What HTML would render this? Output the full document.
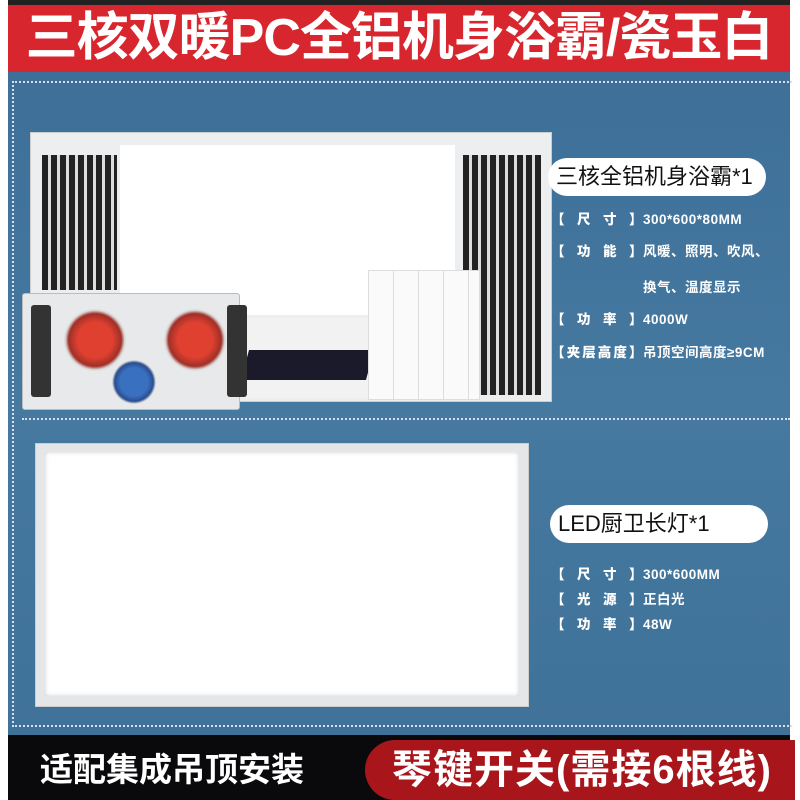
<!DOCTYPE html>
<html><head><meta charset="utf-8"><style>
*{margin:0;padding:0;box-sizing:border-box}
body{width:800px;height:800px;background:#fff;position:relative;overflow:hidden;font-family:"Liberation Sans","Noto Sans CJK SC",sans-serif}
.a{position:absolute}
.spec{position:absolute;color:#fff;font-size:13.5px;font-weight:bold;white-space:nowrap;font-family:"Liberation Sans","Noto Sans CJK SC",sans-serif;letter-spacing:0.5px}
.spec b{display:inline-block;width:92px;text-align:justify;text-align-last:justify}
.pill{position:absolute;background:#fff;border-radius:20px;color:#111;font-size:22px;padding-left:8px;line-height:38px;white-space:nowrap}
.grille{position:absolute;background:repeating-linear-gradient(90deg,#222 0 6px,#ddd 6px 9px)}
</style></head><body>
<div class="a" style="left:8px;top:0;width:782px;height:5px;background:#222"></div>
<div class="a" style="left:8px;top:5px;width:782px;height:67px;background:#d8262e;color:#fff;font-size:52px;font-weight:bold;line-height:67px;text-align:center;letter-spacing:-1px">三核双暖PC全铝机身浴霸/瓷玉白</div>
<div class="a" style="left:8px;top:72px;width:782px;height:663px;background:linear-gradient(180deg,#3d6f98,#4679a0 50%,#3f7299)"></div>
<div class="a" style="left:12px;top:81px;width:780px;height:646px;border-left:2px dotted #dde;border-top:2px dotted #dde;border-bottom:2px dotted #dde"></div>
<div class="a" style="left:22px;top:418px;width:768px;border-top:2px dotted #dde"></div>
<!-- heater -->
<div class="a" style="left:30px;top:132px;width:522px;height:270px;background:#eceeef;border:1px solid #ccc"></div>
<div class="a" style="left:120px;top:145px;width:335px;height:170px;background:#fff"></div>
<div class="grille" style="left:42px;top:155px;width:75px;height:135px"></div>
<div class="grille" style="left:463px;top:155px;width:78px;height:240px"></div>
<div class="a" style="left:240px;top:318px;width:135px;height:80px;background:#f2f2f2"></div>
<div class="a" style="left:245px;top:350px;width:125px;height:30px;background:#1a1a2a;transform:skewX(-15deg)"></div>
<div class="a" style="left:22px;top:293px;width:218px;height:117px;background:#e8e9ea;border:1px solid #bbb;border-radius:3px"></div>
<div class="a" style="left:31px;top:305px;width:20px;height:92px;background:#333;border-radius:3px"></div>
<div class="a" style="left:227px;top:305px;width:20px;height:92px;background:#333;border-radius:3px"></div>
<div class="a" style="left:64px;top:309px;width:62px;height:62px;border-radius:50%;background:radial-gradient(#e04030 0 40%,#a03028 60%,#ddd 68%)"></div>
<div class="a" style="left:164px;top:309px;width:62px;height:62px;border-radius:50%;background:radial-gradient(#e04030 0 40%,#a03028 60%,#ddd 68%)"></div>
<div class="a" style="left:112px;top:360px;width:44px;height:44px;border-radius:50%;background:radial-gradient(#3a70c0 0 45%,#2a4e90 62%,#ddd 70%)"></div>
<div class="a" style="left:368px;top:270px;width:112px;height:130px;background:#fafafa;border:1px solid #ddd;background-image:repeating-linear-gradient(90deg,transparent 0 24px,#ddd 24px 25px)"></div>
<!-- heater text -->
<div class="pill" style="left:548px;top:158px;width:218px;height:38px">三核全铝机身浴霸*1</div>
<div class="spec" style="left:551px;top:208px"><b>【尺寸】</b>300*600*80MM</div>
<div class="spec" style="left:551px;top:240px"><b>【功能】</b>风暖、照明、吹风、</div>
<div class="spec" style="left:643px;top:276px">换气、温度显示</div>
<div class="spec" style="left:551px;top:308px"><b>【功率】</b>4000W</div>
<div class="spec" style="left:551px;top:341px"><b>【夹层高度】</b>吊顶空间高度≥9CM</div>
<!-- lamp -->
<div class="a" style="left:35px;top:443px;width:494px;height:264px;background:#e4e6e8;border:1px solid #ccc"></div>
<div class="a" style="left:45px;top:452px;width:474px;height:244px;background:#fff;box-shadow:inset 0 0 4px #ccc"></div>
<div class="pill" style="left:550px;top:505px;width:218px;height:38px">LED厨卫长灯*1</div>
<div class="spec" style="left:551px;top:563px"><b>【尺寸】</b>300*600MM</div>
<div class="spec" style="left:551px;top:588px"><b>【光源】</b>正白光</div>
<div class="spec" style="left:551px;top:613px"><b>【功率】</b>48W</div>
<!-- bottom -->
<div class="a" style="left:8px;top:735px;width:782px;height:65px;background:#0a0a0c"></div>
<div class="a" style="left:40px;top:746px;color:#fff;font-size:33px;font-weight:bold;line-height:48px;white-space:nowrap">适配集成吊顶安装</div>
<div class="a" style="left:365px;top:740px;width:430px;height:60px;background:#a8161c;border-radius:40px 0 0 40px"></div>
<div class="a" style="left:392px;top:742px;color:#fff;font-size:40px;font-weight:bold;line-height:56px;white-space:nowrap;letter-spacing:1px">琴键开关(需接6根线)</div>
</body></html>
